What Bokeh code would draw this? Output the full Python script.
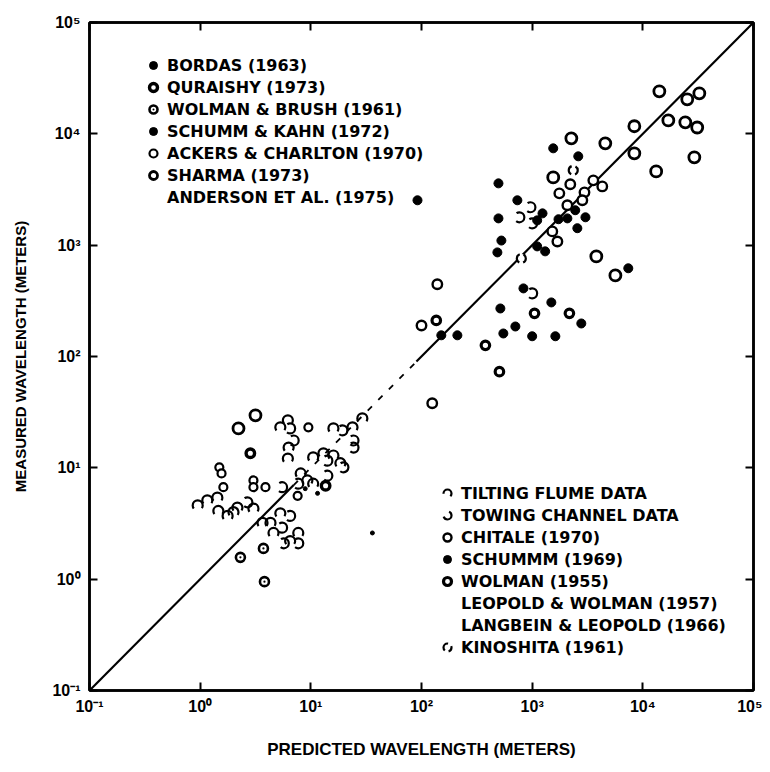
from bokeh.plotting import figure
from bokeh.models import Range1d, FixedTicker, LogAxis, Legend, LegendItem
from bokeh.embed import file_html
from bokeh.resources import INLINE

# ---- axis ticks ----
decades = [0.1, 1, 10, 100, 1000, 10000, 100000]
tick_labels = ["10⁻¹", "10⁰", "10¹", "10²", "10³", "10⁴", "10⁵"]

# ---- diagonal (measured = predicted) ----
diag_a = [0.1, 7]
diag_gap = [7, 90]
diag_b = [90, 100000]

# ---- series (predicted, measured) in meters ----
bordas_x = [496, 735, 496, 527, 485]
bordas_y = [3590, 2530, 1740, 1100, 861]

quraishy_x = [2.84, 13.6]
quraishy_y = [13.5, 6.9]

wolman_brush_x = [2.31, 3.73, 3.81]
wolman_brush_y = [1.57, 1.89, 0.95]

schumm_kahn_x = [11.5, 8.9, 36]
schumm_kahn_y = [5.9, 6.5, 2.6]

ackers_x = [1.49, 1.56, 1.62, 3.03, 3.03, 3.89, 9.5, 7.6]
ackers_y = [10.1, 8.9, 6.7, 7.7, 6.7, 6.7, 23.1, 5.6]

sharma_x = [14100, 25200, 32400, 8380, 17000, 24200, 31000, 2260, 4580, 8380,
            29200, 13200, 1550, 3800, 5650, 3.16, 2.22]
sharma_y = [24100, 20400, 23100, 11700, 13200, 12700, 11400, 9120, 8220, 6680,
            6150, 4600, 4060, 793, 535, 29.6, 22.6]

tilting_x = [0.95, 1.16, 1.43, 1.46, 1.77, 2.0, 2.17, 3.03, 3.66, 4.32, 5.3, 4.6,
             6.5, 7.7, 5.3, 6.2, 6.3, 6.2, 10.5, 13.0, 16.0, 18.5, 16.0, 23.8,
             29.2, 8.1, 9.3, 10.5]
tilting_y = [4.6, 5.1, 5.4, 4.1, 3.7, 4.0, 4.4, 4.3, 3.2, 3.2, 3.9, 2.6,
             2.2, 2.6, 23.1, 26.7, 15.2, 12.1, 12.4, 13.5, 12.9, 11.0, 22.6, 23.1,
             27.8, 8.9, 7.7, 7.2]

towing_x = [2.67, 5.5, 7.0, 5.5, 7.7, 5.7, 6.5, 14.1, 14.1, 19.7, 19.3, 24.3,
            24.3, 6.5, 7.7, 766, 964, 1000, 1000]
towing_y = [4.9, 6.7, 17.6, 2.9, 2.1, 2.1, 3.7, 11.6, 8.5, 10.1, 21.7, 17.6,
            15.2, 22.6, 7.2, 1780, 2190, 1570, 369]

chitale_x = [2210, 3570, 4300, 2970, 1760, 2840, 2080, 1520, 1690, 139, 100, 125]
chitale_y = [3520, 3820, 3370, 2980, 2920, 2530, 2280, 1330, 1080, 445, 190, 38]

schumm69_x = [1550, 2610, 1240, 1110, 1730, 2080, 2450, 3030, 2560, 1110, 1310,
              7390, 834, 1490, 516, 2780, 705, 549, 1000, 1620, 151, 211, 92]
schumm69_y = [7410, 6280, 1930, 1670, 1710, 1740, 2060, 1780, 1420, 975, 880,
              620, 409, 306, 270, 198, 186, 161, 152, 152, 155, 155, 2530]

wolman55_x = [1050, 2170, 378, 506, 136]
wolman55_y = [244, 244, 126, 73, 211]

kinoshita_x = [2350, 798]
kinoshita_y = [4700, 760]

# ---- figure ----
p = figure(width=762, height=764, x_axis_type="log", y_axis_type="log",
           x_range=Range1d(0.1, 100000), y_range=Range1d(0.1, 100000),
           output_backend="svg", toolbar_location=None,
           min_border_left=89, min_border_right=9, min_border_top=22,
           min_border_bottom=74)
p.grid.visible = False
p.outline_line_color = "black"
p.outline_line_width = 2.5
p.background_fill_color = "white"
p.border_fill_color = "white"

p.add_layout(LogAxis(), "right")
p.add_layout(LogAxis(), "above")

overrides = {d: t for d, t in zip(decades, tick_labels)}
for ax in list(p.xaxis) + list(p.yaxis):
    ax.ticker = FixedTicker(ticks=decades, minor_ticks=[])
    ax.major_tick_in = 8
    ax.major_tick_out = 0
    ax.major_tick_line_width = 2
    ax.minor_tick_line_color = None
    ax.axis_line_width = 2.5
    ax.major_label_text_font = "Liberation Sans"
    ax.major_label_text_font_style = "bold"
    ax.major_label_text_font_size = "16px"
    ax.major_label_text_color = "black"
    ax.major_label_overrides = overrides

for ax in [p.right[0], p.above[0]]:
    ax.major_label_text_color = None
    ax.major_label_text_alpha = 0
    ax.major_label_standoff = 0

xa = p.below[0]
ya = p.left[0]
xa.major_label_standoff = 7
ya.major_label_standoff = 9
xa.axis_label = "PREDICTED WAVELENGTH (METERS)"
ya.axis_label = "MEASURED WAVELENGTH (METERS)"
for ax, fs, so in [(xa, "17px", 22), (ya, "15px", 20)]:
    ax.axis_label_text_font = "Liberation Sans"
    ax.axis_label_text_font_style = "bold"
    ax.axis_label_text_font_size = fs
    ax.axis_label_text_color = "black"
    ax.axis_label_standoff = so

# ---- diagonal ----
p.line(diag_a, diag_a, line_color="black", line_width=2.2)
p.line(diag_gap, diag_gap, line_color="black", line_width=1.8, line_dash="6 9")
p.line(diag_b, diag_b, line_color="black", line_width=2.2)

# ---- points ----
r_tilt = p.scatter(tilting_x, tilting_y, marker="circle", size=10, fill_color=None,
                   line_color="black", line_width=2.2, line_dash="22 9", line_dash_offset=19)
r_tow = p.scatter(towing_x, towing_y, marker="circle", size=10, fill_color=None,
                  line_color="black", line_width=2.2, line_dash="22 9", line_dash_offset=11)
r_ack = p.scatter(ackers_x, ackers_y, marker="circle", size=8, fill_color="white",
                  line_color="black", line_width=2.2)
r_sharma = p.scatter(sharma_x, sharma_y, marker="circle", size=11, fill_color="white",
                     line_color="black", line_width=2.8)
r_chitale = p.scatter(chitale_x, chitale_y, marker="circle", size=9.5, fill_color="white",
                      line_color="black", line_width=2.4)
r_kino = p.scatter(kinoshita_x, kinoshita_y, marker="circle", size=9, fill_color="white",
                   line_color="black", line_width=2.2, line_dash="10 4", line_dash_offset=5)
r_w55 = p.scatter(wolman55_x, wolman55_y, marker="circle", size=8.5, fill_color="white",
                  line_color="black", line_width=3.2)
r_wb = p.scatter(wolman_brush_x, wolman_brush_y, marker="circle_dot", size=9,
                 fill_color="white", line_color="black", line_width=2.6)
r_qur = p.scatter(quraishy_x, quraishy_y, marker="circle", size=8.5, fill_color="white",
                  line_color="black", line_width=3.4)
r_sk = p.scatter(schumm_kahn_x, schumm_kahn_y, marker="circle", size=4,
                 fill_color="black", line_color="black")
r_bordas = p.scatter(bordas_x, bordas_y, marker="circle", size=9, fill_color="black",
                     line_color="black")
r_s69 = p.scatter(schumm69_x, schumm69_y, marker="circle", size=9, fill_color="black",
                  line_color="black")
r_blank = p.scatter(x=[], y=[], marker="circle", size=1, fill_alpha=0, line_alpha=0)

leg_style = dict(padding=0, margin=0, spacing=2, label_height=20, glyph_height=20,
                 glyph_width=20, label_standoff=4, border_line_color=None,
                 background_fill_alpha=0, label_text_font="DejaVu Sans",
                 label_text_font_style="bold", label_text_font_size="16px",
                 label_text_color="black")

leg1 = Legend(items=[
    LegendItem(label="BORDAS (1963)", renderers=[r_bordas]),
    LegendItem(label="QURAISHY (1973)", renderers=[r_qur]),
    LegendItem(label="WOLMAN & BRUSH (1961)", renderers=[r_wb]),
    LegendItem(label="SCHUMM & KAHN (1972)", renderers=[r_sk]),
    LegendItem(label="ACKERS & CHARLTON (1970)", renderers=[r_ack]),
    LegendItem(label="SHARMA (1973)", renderers=[r_sharma]),
    LegendItem(label="ANDERSON ET AL. (1975)", renderers=[r_blank]),
], location=(54, 483), **leg_style)

leg2 = Legend(items=[
    LegendItem(label="TILTING FLUME DATA", renderers=[r_tilt]),
    LegendItem(label="TOWING CHANNEL DATA", renderers=[r_tow]),
    LegendItem(label="CHITALE (1970)", renderers=[r_chitale]),
    LegendItem(label="SCHUMMM (1969)", renderers=[r_s69]),
    LegendItem(label="WOLMAN (1955)", renderers=[r_w55]),
    LegendItem(label="LEOPOLD & WOLMAN (1957)", renderers=[r_blank]),
    LegendItem(label="LANGBEIN & LEOPOLD (1966)", renderers=[r_blank]),
    LegendItem(label="KINOSHITA (1961)", renderers=[r_kino]),
], location=(348, 33), **leg_style)

p.add_layout(leg1)
p.add_layout(leg2)

open("out.html", "w").write(file_html(p, INLINE))
